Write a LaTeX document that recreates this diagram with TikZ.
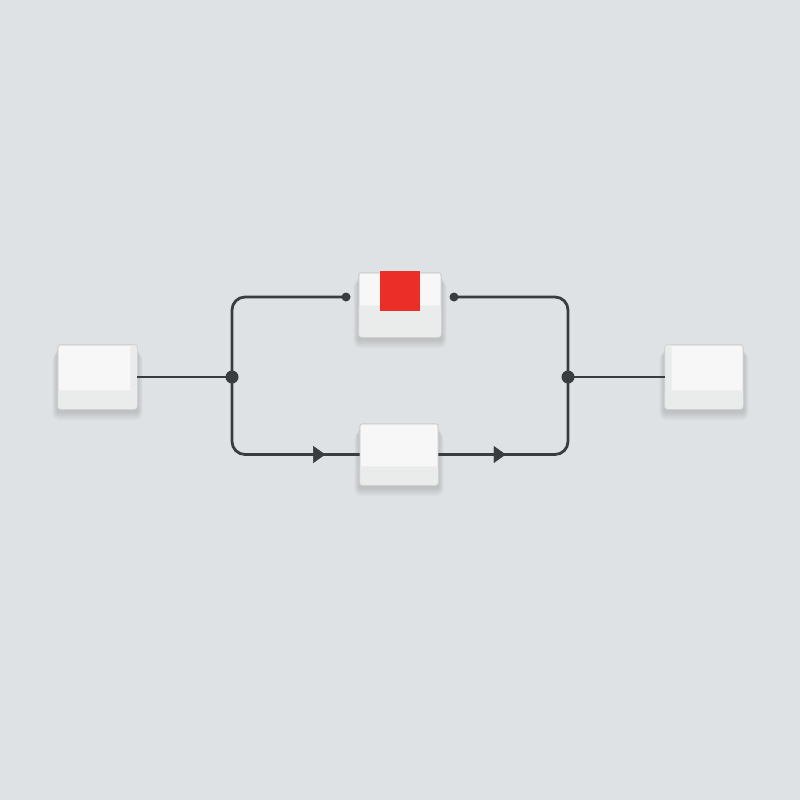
\documentclass[tikz,border=0pt]{standalone}
\usetikzlibrary{arrows.meta,decorations.markings}
\definecolor{bg}{RGB}{223,226,228}
\definecolor{wirec}{RGB}{58,61,63}
\definecolor{boxtop}{RGB}{247,247,247}
\definecolor{boxface}{RGB}{234,235,235}
\definecolor{boxedge}{RGB}{204,206,207}
\definecolor{redc}{RGB}{236,46,40}
\begin{document}
\begin{tikzpicture}[x=1pt,y=-1pt,
  box/.style 2 args={draw=boxedge, line width=0.6pt, fill=boxtop, rounded corners=2.5pt,
    inner sep=0pt, minimum width=#1pt, minimum height=#2pt},
  face/.style={fill=boxface},
  wire/.style={draw=wirec, line width=2.8pt},
  dotsm/.style={circle, fill=wirec, inner sep=0pt, minimum size=9pt},
  dotlg/.style={circle, fill=wirec, inner sep=0pt, minimum size=13pt},
  arrowmark/.style={decorate, decoration={markings,
    mark=at position #1 with {\arrow[wirec]{Triangle[length=12pt,width=17pt]}}}}
]
% background
\fill[bg] (0,0) rectangle (800,800);
\useasboundingbox (0,0) rectangle (800,800);

% soft shadows
\foreach \xa/\ya/\xb/\yb in {58/345/137/409, 665/345/743/409, 359/273/441/337, 360/424/438/485}{
  \foreach \i in {1,...,7}{
    \fill[black, opacity=0.018, rounded corners=\i pt]
      (\xa-\i*0.8, \ya+3+\i*0.8) rectangle (\xb+\i*0.8, \yb+2+\i*1.3);
  }
}

% boxes
\node[box={79}{64}] (L) at (97.5,377) {};
\node[box={78}{64}] (R) at (704,377) {};
\node[box={82}{64}] (T) at (400,305) {};
\node[box={78}{61}] (B) at (399,454.5) {};

% side / front faces
\begin{scope}[rounded corners=2.5pt]
  \fill[face] ([xshift=-7pt]L.north east) rectangle (L.south east);
  \fill[face] ([yshift=19pt]L.south west) rectangle (L.south east);
  \fill[face] (R.north west) rectangle ([xshift=7pt]R.south west);
  \fill[face] ([yshift=19pt]R.south west) rectangle (R.south east);
  \fill[face] ([yshift=32pt]T.south west) rectangle (T.south east);
  \fill[face] ([yshift=19pt]B.south west) rectangle (B.south east);
\end{scope}
\draw[boxedge, line width=0.6pt, rounded corners=2.5pt] (L.north west) rectangle (L.south east);
\draw[boxedge, line width=0.6pt, rounded corners=2.5pt] (R.north west) rectangle (R.south east);
\draw[boxedge, line width=0.6pt, rounded corners=2.5pt] (T.north west) rectangle (T.south east);
\draw[boxedge, line width=0.6pt, rounded corners=2.5pt] (B.north west) rectangle (B.south east);

% red square on the top box
\fill[redc] (380,271) rectangle (420,311);

% junction and end points
\coordinate (j1) at (232,377);
\coordinate (j2) at (568,377);
\coordinate (tL) at (346,297);
\coordinate (tR) at (454,297);

% wires
\draw[wire] (L.east) -- (j1);
\draw[wire] (j2) -- (R.west);
\draw[wire, rounded corners=13pt] (tL) -| (j1) |- (B.west);
\draw[wire, rounded corners=13pt] (tR) -| (j2) |- (B.east);

% arrowheads
\path[arrowmark=0.73] (B.west -| j1) -- (B.west);
\path[arrowmark=0.52] (B.east) -- (B.east -| j2);

% dots
\node[dotlg] (d1) at (j1) {};
\node[dotlg] (d2) at (j2) {};
\node[dotsm] (d3) at (tL) {};
\node[dotsm] (d4) at (tR) {};
\end{tikzpicture}
\end{document}
